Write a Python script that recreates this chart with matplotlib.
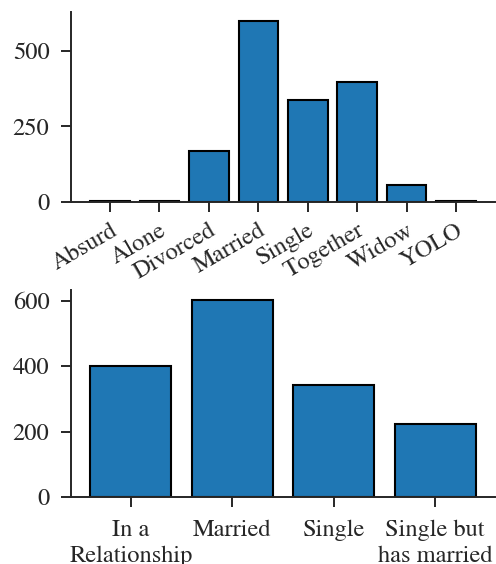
import matplotlib
matplotlib.use("Agg")
import matplotlib.pyplot as plt

# raw marital status counts
status_raw = ["Absurd", "Alone", "Divorced", "Married", "Single", "Together", "Widow", "YOLO"]
count_raw = [2, 3, 168, 600, 338, 398, 55, 2]

# grouped status counts
status_grp = ["In a\nRelationship", "Married", "Single", "Single but\nhas married"]
count_grp = [400, 602, 341, 224]

ink = "#262626"
plt.rcParams["font.family"] = ["STIXGeneral", "DejaVu Serif"]
plt.rcParams["font.size"] = 17.6
plt.rcParams["text.color"] = ink
plt.rcParams["axes.edgecolor"] = ink
plt.rcParams["axes.linewidth"] = 1.4
for k in ("xtick", "ytick"):
    plt.rcParams[k + ".color"] = ink
    plt.rcParams[k + ".labelcolor"] = ink
    plt.rcParams[k + ".major.size"] = 7.5
    plt.rcParams[k + ".major.width"] = 1.4
plt.rcParams["xtick.major.pad"] = 5.4
plt.rcParams["ytick.major.pad"] = 8.0

fig = plt.figure(figsize=(4.96, 5.64), dpi=100)
ax1 = fig.add_axes([0.1431, 0.6424, 0.855, 0.3363])
ax2 = fig.add_axes([0.1431, 0.1188, 0.855, 0.367])

# top: every status as recorded
ax1.bar(status_raw, count_raw, color="#1f77b4", edgecolor="black", linewidth=1.5)
ax1.set_yticks([0, 250, 500])
plt.setp(ax1.get_xticklabels(), rotation=30, ha="right", rotation_mode="anchor")

# bottom: grouped statuses
ax2.bar(status_grp, count_grp, color="#1f77b4", edgecolor="black", linewidth=1.5)
ax2.set_yticks([0, 200, 400, 600])
ax2.tick_params(axis="x", pad=9.0)
plt.setp(ax2.get_xticklabels(), linespacing=1.26)

for ax in (ax1, ax2):
    ax.spines["top"].set_visible(False)
    ax.spines["right"].set_visible(False)

fig.savefig("out.png", dpi=100)
